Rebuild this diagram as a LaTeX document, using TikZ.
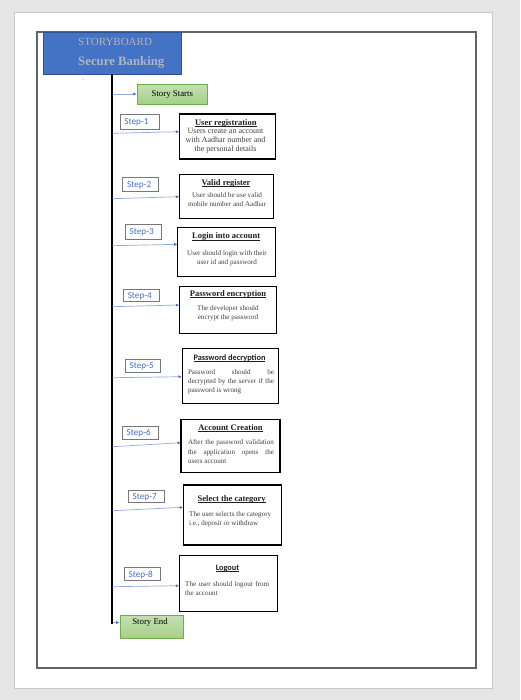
\documentclass[tikz,border=0pt]{standalone}
\usepackage{fontspec}
\setmainfont{Liberation Serif}
\newfontfamily\calfont{Carlito}
\usetikzlibrary{arrows.meta}
\newcommand\myul[1]{\setbox0\hbox{#1}\rlap{\rule[-1.4pt]{\wd0}{0.55pt}}\box0}
\definecolor{bggray}{RGB}{230,230,230}
\definecolor{pageedge}{RGB}{200,200,200}
\definecolor{framegray}{RGB}{100,100,100}
\definecolor{hdrblue}{RGB}{68,114,196}
\definecolor{hdredge}{RGB}{47,82,143}
\definecolor{hdrtext}{RGB}{178,180,188}
\definecolor{stepblue}{RGB}{68,114,196}
\definecolor{arrline}{RGB}{143,170,220}
\definecolor{stepedge}{RGB}{120,120,120}
\definecolor{bodygray}{RGB}{64,64,64}
\definecolor{titleblack}{RGB}{30,30,30}
\definecolor{sgreen}{RGB}{165,207,138}
\definecolor{sgreenlt}{RGB}{195,225,176}
\definecolor{sgreenedge}{RGB}{112,173,71}
\tikzset{
  cbox/.style={draw=black, line width=1.1pt, fill=white, inner sep=0pt},
  sbox/.style={draw=stepedge, line width=0.6pt, fill=white, inner sep=0pt},
  slbl/.style={anchor=base west, inner sep=0pt, font=\calfont\fontsize{9.2}{9.2}\selectfont, text=stepblue},
  ttl/.style={font=\bfseries\fontsize{8.5}{9}\selectfont, text=titleblack, inner sep=0pt},
  cttl/.style={font=\calfont\bfseries\fontsize{8.3}{9}\selectfont, text=titleblack, inner sep=0pt},
  bdy/.style={font=\fontsize{7.1}{9}\selectfont, text=bodygray, inner sep=0pt},
  arr/.style={draw=arrline, line width=0.7pt, -{Latex[length=3.5pt,width=3pt,color=stepblue]}},
  greenbox/.style={draw=sgreenedge, line width=1pt, top color=sgreenlt, bottom color=sgreen,
    inner sep=0pt, font=\fontsize{8.8}{9}\selectfont, text=black},
}
\begin{document}
\begin{tikzpicture}[x=1pt,y=-1pt]
\useasboundingbox (0,0) rectangle (520,700);
\fill[bggray] (0,0) rectangle (520,700);
\draw[pageedge, fill=white, line width=0.8pt] (14.5,12) rectangle (492.5,688);
\draw[framegray, line width=2pt] (37,32) rectangle (476,668);

% header
\node[draw=hdredge, fill=hdrblue, line width=0.8pt, minimum width=138pt, minimum height=42pt, inner sep=0pt] (hdr) at (112,53) {};
\node[anchor=west, inner sep=0pt, text=hdrtext, font=\fontsize{11}{11}\selectfont] (hdr1) at (78,42) {STORYBOARD};
\node[anchor=west, inner sep=0pt, text=hdrtext, font=\bfseries\fontsize{12.8}{13}\selectfont] (hdr2) at (78,62.5) {Secure Banking};
\node[inner sep=0pt, text=gray, font=\fontsize{4}{4}\selectfont] (mark) at (83,80) {:;};

% timeline
\coordinate (ltop) at (112,74);
\coordinate (lbot) at (112,623.5);
\draw[black, line width=1.2pt] (ltop) -- (lbot);

% story start
\node[greenbox, minimum width=70pt, minimum height=20pt] (start) at (172.3,94.2) {Story Starts};
\coordinate (s0) at (112.5,94);
\draw[arr] (s0) -- (start.west |- s0);

% content boxes
\node[cbox, minimum width=96.4pt, minimum height=45pt] (b1) at (227.5,136.5) {};
\node[cbox, minimum width=94pt, minimum height=44pt] (b2) at (226.3,196.3) {};
\node[cbox, minimum width=98pt, minimum height=48.7pt] (b3) at (226.7,251.7) {};
\node[cbox, minimum width=97.4pt, minimum height=47.3pt] (b4) at (228,309.7) {};
\node[cbox, minimum width=96.3pt, minimum height=55pt] (b5) at (230.2,375.8) {};
\node[cbox, minimum width=99pt, minimum height=53.4pt] (b6) at (230.5,446) {};
\node[cbox, minimum width=98.4pt, minimum height=60pt] (b7) at (232.5,515) {};
\node[cbox, minimum width=98.4pt, minimum height=55.3pt] (b8) at (228.5,583.4) {};

% titles
\node[ttl] (t1) at (225.8,123.3) {\myul{User registration}};
\node[ttl] (t2) at (226,183.3) {\myul{Valid register}};
\node[ttl] (t3) at (226.2,236.7) {\myul{Login into account}};
\node[ttl] (t4) at (228,294) {\myul{Password encryption}};
\node[cttl] (t5) at (229.5,358.3) {\myul{Password decryption}};
\node[ttl] (t6) at (230.5,428.3) {\myul{Account Creation}};
\node[ttl] (t7) at (231.7,499) {\myul{Select the category}};
\node[cttl] (t8) at (227.5,568.3) {\myul{Logout}};

% bodies
\node[bdy, font=\fontsize{8}{9.2}\selectfont, align=center] (d1) at (225.5,140.5) {Users create an account\\with Aadhar number and\\the personal details};
\node[bdy, align=center] (d2) at (227,200) {User should be use valid\\mobile number and Aadhar};
\node[bdy, align=center] (d3) at (227,257.8) {User should login with their\\user id and password};
\node[bdy, align=center] (d4) at (228,313.7) {The developer should\\encrypt the password};
\node[bdy, align=left, font=\fontsize{7.1}{9.2}\selectfont] (d5) at (231,382) {\makebox[86pt][s]{Password should be}\\\makebox[86pt][s]{decrypted by the server if the}\\password is wrong};
\node[bdy, align=left, font=\fontsize{7.1}{9.5}\selectfont] (d6) at (231,452) {\makebox[86pt][s]{After the password validation}\\\makebox[86pt][s]{the application opens the}\\users account};
\node[bdy, anchor=west, align=left] (d7) at (189,518.8) {The user selects the category\\i.e., deposit or withdraw};
\node[bdy, anchor=west, align=left] (d8) at (185,588.8) {\makebox[84pt][s]{The user should logout from}\\the account};

% step labels
\node[sbox, minimum width=39pt, minimum height=15pt] (st1) at (139.5,121.7) {};
\node[sbox, minimum width=36pt, minimum height=14pt] (st2) at (140.7,184.7) {};
\node[sbox, minimum width=36.4pt, minimum height=15pt] (st3) at (143.5,231.5) {};
\node[sbox, minimum width=35.7pt, minimum height=12.7pt] (st4) at (141.2,295.3) {};
\node[sbox, minimum width=35.4pt, minimum height=13.3pt] (st5) at (143,365.7) {};
\node[sbox, minimum width=36.4pt, minimum height=12.3pt] (st6) at (140.5,432.8) {};
\node[sbox, minimum width=36.4pt, minimum height=12.7pt] (st7) at (146.5,496.3) {};
\node[sbox, minimum width=36.4pt, minimum height=13.4pt] (st8) at (142.5,574) {};
\foreach \i in {1,...,8} {\node[slbl] (lt\i) at ([xshift=4.5pt,yshift=-3pt]st\i.west) {Step-\i};}

% arrows
\coordinate (s1) at (112.5,133.3); \coordinate (e1) at (179.3,131.7);
\coordinate (s2) at (112.5,198.7); \coordinate (e2) at (179.3,196.7);
\coordinate (s3) at (112.5,245.7); \coordinate (e3) at (177.7,244.3);
\coordinate (s4) at (112.5,306.7); \coordinate (e4) at (179.3,305);
\coordinate (s5) at (112.5,377.7); \coordinate (e5) at (182,376.7);
\coordinate (s6) at (112.5,446.7); \coordinate (e6) at (181,442.7);
\coordinate (s7) at (112.5,510.7); \coordinate (e7) at (183.3,507.3);
\coordinate (s8) at (112.5,586.7); \coordinate (e8) at (179.3,585.7);
\foreach \i in {1,...,8} {\draw[arr] (s\i) -- (e\i);}

% story end
\node[greenbox, minimum width=63pt, minimum height=23.3pt] (end) at (151.7,626.7) {};
\node[inner sep=0pt, font=\fontsize{8.8}{9}\selectfont] (endtxt) at (150,622.5) {Story End};
\coordinate (sE) at (112.5,622.5);
\draw[arr] (sE) -- (end.west |- sE);
\end{tikzpicture}
\end{document}
